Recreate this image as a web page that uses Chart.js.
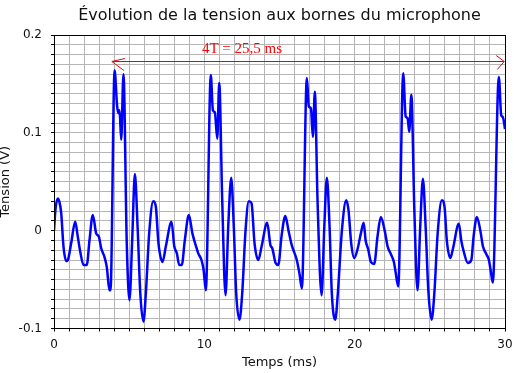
<!DOCTYPE html>
<html>
<head>
<meta charset="utf-8">
<title>Tension microphone</title>
<script src="https://cdn.jsdelivr.net/npm/chart.js"></script>
<style>
  html, body { margin: 0; padding: 0; background: #fff; }
  #wrap { width: 514px; height: 373px; }
</style>
</head>
<body>
<div id="wrap"><canvas id="chartTension" width="514" height="373"></canvas></div>
<script>
// temps en ms, tension en V
const temps = [
  0.00, 0.10, 0.25, 0.35, 0.48, 0.63, 0.81, 0.92, 1.14, 1.41, 1.58, 1.74, 1.96, 2.18, 2.36, 2.58,
  2.81, 2.98, 3.14, 3.36, 3.51, 3.69, 3.76, 4.03, 4.20, 4.29, 4.36, 4.47, 4.62, 4.84, 5.02, 5.20,
  5.38, 5.56, 5.74, 5.95, 6.11, 6.33, 6.60, 6.77, 6.95, 7.22, 7.44, 7.82, 8.00, 8.17, 8.33, 8.50,
  8.70, 8.97, 9.21, 9.43, 9.59, 9.81, 9.95, 10.10, 10.43, 10.57, 10.70, 10.86, 10.99, 11.19, 11.41, 11.59,
  11.79, 11.96, 12.12, 12.34, 12.52, 12.74, 12.96, 13.14, 13.34, 13.59, 13.81, 14.18, 14.40, 14.52, 14.74, 14.92,
  15.14, 15.39, 15.60, 15.82, 16.15, 16.33, 16.49, 16.82, 16.95, 17.09, 17.22, 17.35, 17.53, 17.80, 17.98, 18.15,
  18.33, 18.48, 18.71, 18.88, 19.15, 19.44, 19.59, 19.77, 19.97, 20.19, 20.41, 20.60, 20.73, 20.90, 21.08, 21.30,
  21.52, 21.74, 22.01, 22.19, 22.41, 22.61, 22.72, 22.90, 23.23, 23.39, 23.52, 23.63, 23.77, 23.97, 24.18, 24.36,
  24.54, 24.72, 24.90, 25.12, 25.30, 25.52, 25.80, 25.98, 26.13, 26.36, 26.53, 26.93, 27.09, 27.25, 27.53, 27.76,
  27.91, 28.13, 28.36, 28.53, 28.76, 28.93, 29.04, 29.19, 29.59, 29.75, 29.86, 30.00
];
const tension = [
  0.000, 0.022, 0.033, 0.030, 0.018, -0.016, -0.031, -0.030, -0.013, 0.009, -0.006, -0.021, -0.035, -0.035, -0.010, 0.016,
  -0.003, -0.006, -0.018, -0.027, -0.037, -0.061, -0.061, 0.164, 0.127, 0.120, 0.123, 0.093, 0.160, -0.013, -0.071, -0.010,
  0.058, 0.004, -0.064, -0.093, -0.064, -0.003, 0.030, 0.025, -0.013, -0.032, -0.016, 0.009, -0.016, -0.023, -0.035, -0.035,
  -0.010, 0.016, -0.003, -0.015, -0.023, -0.030, -0.040, -0.061, 0.159, 0.123, 0.121, 0.094, 0.151, 0.031, -0.066, 0.004,
  0.054, 0.004, -0.064, -0.091, -0.064, 0.000, 0.030, 0.028, -0.013, -0.030, -0.016, 0.008, -0.015, -0.018, -0.033, -0.035,
  -0.005, 0.015, 0.000, -0.015, -0.030, -0.044, -0.059, 0.156, 0.127, 0.125, 0.096, 0.142, 0.031, -0.066, 0.004, 0.054,
  0.004, -0.064, -0.091, -0.064, 0.000, 0.031, 0.021, -0.013, -0.028, -0.019, -0.003, 0.008, -0.010, -0.019, -0.032, -0.034,
  -0.006, 0.014, -0.001, -0.016, -0.024, -0.032, -0.042, -0.057, 0.161, 0.117, 0.115, 0.101, 0.139, 0.021, -0.061, 0.004,
  0.053, 0.004, -0.061, -0.091, -0.064, -0.003, 0.031, 0.024, -0.010, -0.028, -0.019, 0.007, -0.010, -0.021, -0.033, -0.030,
  -0.006, 0.014, 0.000, -0.016, -0.024, -0.030, -0.040, -0.053, 0.157, 0.118, 0.116, 0.104
];

// graduations
const xLabels = [0, 10, 20, 30];
const yLabels = [-0.1, 0, 0.1, 0.2];

const titre = 'Évolution de la tension aux bornes du microphone';

// annotation 4T
const mesureTexte = '4T = 25,5 ms';
const mesureDebut = 3.85;
const mesureFin = 29.95;
const mesureNiveau = 0.173;

const points = temps.map((t, i) => ({ x: t, y: tension[i] }));

const gridColor = '#b5b5b5';
const textColor = '#111';

// titre centre sur la zone du graphe (comme matplotlib)
const titrePlugin = {
  id: 'titre',
  afterDraw(chart) {
    const { ctx, chartArea } = chart;
    ctx.save();
    ctx.fillStyle = textColor;
    ctx.font = '16px "DejaVu Sans"';
    ctx.textAlign = 'center';
    ctx.textBaseline = 'alphabetic';
    ctx.fillText(titre, (chartArea.left + chartArea.right) / 2, 20);
    ctx.restore();
  }
};

// cadre complet autour de la zone du graphe
const cadrePlugin = {
  id: 'cadre',
  afterDatasetsDraw(chart) {
    const { ctx, chartArea } = chart;
    const l = Math.round(chartArea.left - 0.5) + 0.5;
    const r = Math.round(chartArea.right - 0.5) + 0.5;
    const t = Math.round(chartArea.top - 0.5) + 0.5;
    const b = Math.round(chartArea.bottom - 0.5) + 0.5;
    ctx.save();
    ctx.strokeStyle = '#000';
    ctx.lineWidth = 1;
    ctx.strokeRect(l, t, r - l, b - t);
    ctx.restore();
  }
};

// fleche double + texte en rouge
const flechePlugin = {
  id: 'fleche',
  afterDraw(chart) {
    const { ctx } = chart;
    const xs = chart.scales.x;
    const ys = chart.scales.y;
    const x1 = xs.getPixelForValue(mesureDebut);
    const x2 = xs.getPixelForValue(mesureFin);
    const y = Math.round(ys.getPixelForValue(mesureNiveau)) + 0.5;
    ctx.save();
    ctx.strokeStyle = '#e8000b';
    ctx.lineWidth = 1;
    ctx.beginPath();
    ctx.moveTo(x1, y);
    ctx.lineTo(x2, y);
    // pointe gauche
    ctx.moveTo(x1 + 13, y - 3);
    ctx.lineTo(x1, y);
    ctx.lineTo(x1 + 12, y + 9);
    // pointe droite
    ctx.moveTo(x2 - 8, y - 6);
    ctx.lineTo(x2, y);
    ctx.lineTo(x2 - 7, y + 8);
    ctx.stroke();
    ctx.fillStyle = '#ff0000';
    ctx.font = '15px "Liberation Serif", "DejaVu Serif", serif';
    ctx.textAlign = 'center';
    ctx.textBaseline = 'alphabetic';
    ctx.fillText(mesureTexte, 242, y - 9);
    ctx.restore();
  }
};

new Chart(document.getElementById('chartTension'), {
  type: 'line',
  data: {
    datasets: [{
      label: 'Tension',
      data: points,
      borderColor: '#0000ff',
      borderWidth: 2.5,
      pointRadius: 0,
      cubicInterpolationMode: 'monotone',
      borderJoinStyle: 'round',
      fill: false
    }]
  },
  options: {
    responsive: false,
    animation: false,
    devicePixelRatio: 1,
    layout: { padding: { left: 0, right: 9, top: 35, bottom: 0 } },
    plugins: {
      legend: { display: false },
      tooltip: { enabled: false },
      title: { display: false }
    },
    scales: {
      x: {
        type: 'linear',
        min: 0,
        max: 30,
        afterFit(scale) {
          scale.height = 44.5;
          scale.paddingLeft = 0;
          scale.paddingRight = 0;
        },
        ticks: {
          stepSize: 1,
          autoSkip: false,
          maxRotation: 0,
          padding: 6,
          color: textColor,
          font: { family: 'DejaVu Sans', size: 12 },
          callback: (v) => xLabels.includes(Math.round(v * 100) / 100) ? String(Math.round(v)) : ''
        },
        grid: { color: gridColor, lineWidth: 1, tickLength: 3, tickColor: '#000' },
        border: { color: '#000', width: 1 },
        title: {
          display: true,
          text: 'Temps (ms)',
          color: textColor,
          font: { family: 'DejaVu Sans', size: 13 },
          padding: { top: 0, bottom: 2.4 }
        }
      },
      y: {
        min: -0.1,
        max: 0.2,
        afterFit(scale) {
          scale.width = 54;
          scale.paddingTop = 0;
          scale.paddingBottom = 0;
        },
        ticks: {
          stepSize: 0.01,
          autoSkip: false,
          padding: 9,
          color: textColor,
          font: { family: 'DejaVu Sans', size: 12 },
          callback: (v) => {
            const r = Math.round(v * 10) / 10;
            return yLabels.some(l => Math.abs(l - v) < 1e-6) ? String(r) : '';
          }
        },
        grid: { color: gridColor, lineWidth: 1, tickLength: 3, tickColor: '#000' },
        border: { color: '#000', width: 1 },
        title: {
          display: true,
          text: 'Tension (V)',
          color: textColor,
          font: { family: 'DejaVu Sans', size: 13 },
          padding: { top: -2.5, bottom: 0 }
        }
      }
    }
  },
  plugins: [titrePlugin, cadrePlugin, flechePlugin]
});
</script>
</body>
</html>
